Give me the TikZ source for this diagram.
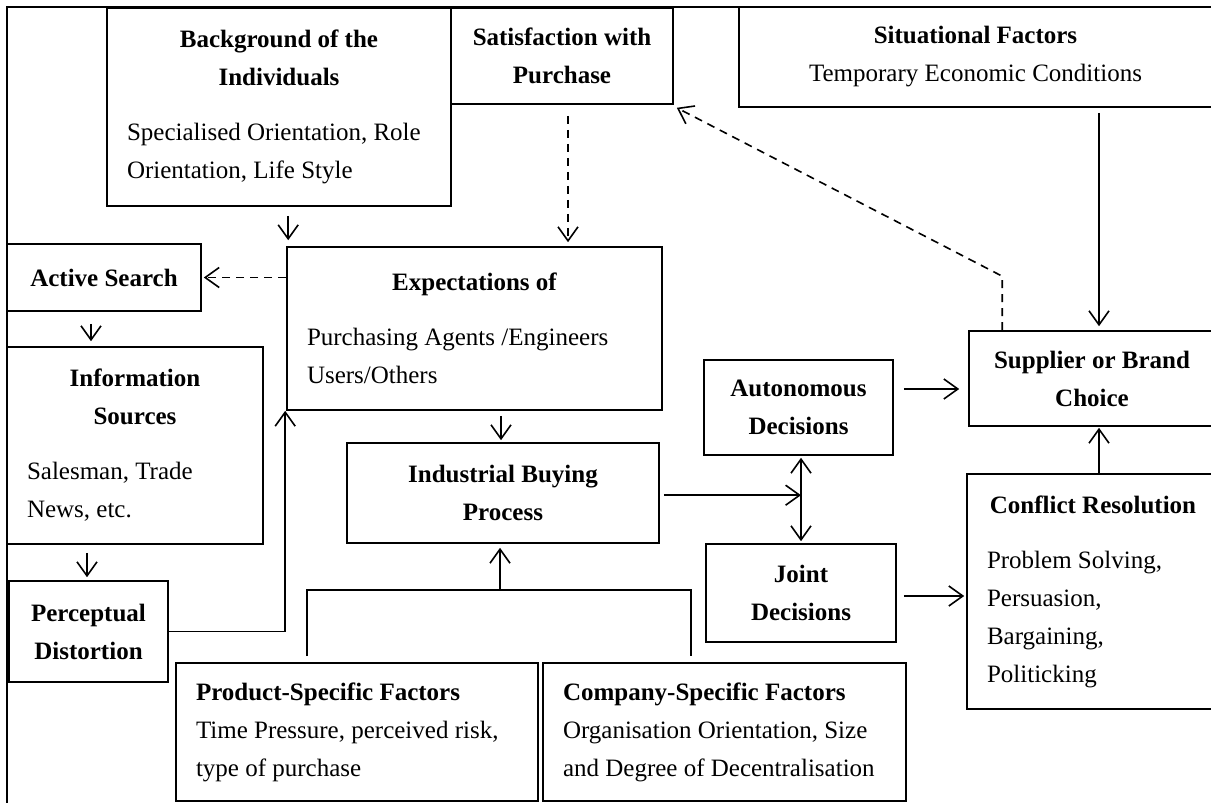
\documentclass[tikz,border=0pt]{standalone}
\usepackage{fontspec}
\setmainfont{Liberation Serif}
\usetikzlibrary{arrows.meta,calc}

\tikzset{
  box/.style={draw, line width=0.8pt, inner xsep=10pt, inner ysep=0pt,
    font=\fontsize{12.5}{19}\selectfont},
  tbox/.style={box, align=center, font=\fontsize{12.5}{19}\selectfont\bfseries},
  pbox/.style={box, align=flush left},
  link/.style={line width=0.8pt, -{Straight Barb[length=7pt,width=10pt]}},
  twoway/.style={line width=0.8pt,
    {Straight Barb[length=7pt,width=10pt]}-{Straight Barb[length=7pt,width=10pt]}},
  dlink/.style={link, dash pattern=on 4pt off 3pt},
}
% centred bold heading inside a left aligned box
\newcommand{\hdr}[1]{{\centering\bfseries #1\par}\vspace{8.5pt}}

\begin{document}
\begin{tikzpicture}[x=0.5pt, y=-0.5pt]
  \useasboundingbox (0,0) rectangle (1211,803);
  \draw[line width=0.8pt] (7,803) -- (7,7) -- (1211,7);

  % boxes
  \node[pbox, minimum width=172pt, minimum height=99pt, text width=152pt] (bg) at (279,107)
    {\hdr{Background of the\\Individuals}Specialised Orientation, Role\\Orientation, Life Style};
  \node[tbox, minimum width=111pt, minimum height=48pt] (sat) at (562,56)
    {Satisfaction with\\Purchase};
  \node[box, align=center, minimum width=236.5pt, minimum height=50pt] (sit) at (975.5,57)
    {\textbf{Situational Factors}\\Temporary Economic Conditions};
  \node[tbox, minimum width=97pt, minimum height=33.5pt] (act) at (104,277.5) {Active Search};
  \node[pbox, minimum width=187.5pt, minimum height=81.5pt, text width=167.5pt] (exp) at (474.5,328.5)
    {\hdr{Expectations of}Purchasing Agents /Engineers\\Users/Others};
  \node[pbox, minimum width=128pt, minimum height=98.5pt, text width=108pt] (info) at (135,445.5)
    {\hdr{Information\\Sources}Salesman, Trade\\News, etc.};
  \node[tbox, minimum width=94.5pt, minimum height=47.5pt] (auto) at (798.5,407.5)
    {Autonomous\\Decisions};
  \node[tbox, minimum width=123pt, minimum height=47.5pt] (sup) at (1092,378.5)
    {Supplier or Brand\\Choice};
  \node[tbox, minimum width=156pt, minimum height=50pt] (ind) at (503,493)
    {Industrial Buying\\Process};
  \node[tbox, minimum width=95pt, minimum height=49pt] (joint) at (801,593)
    {Joint\\Decisions};
  \node[pbox, minimum width=126pt, minimum height=117.5pt, text width=106pt] (conf) at (1093,591.5)
    {\hdr{Conflict Resolution}Problem Solving,\\Persuasion,\\Bargaining,\\Politicking};
  \node[tbox, minimum width=79.5pt, minimum height=50.5pt] (perc) at (88.5,631.5)
    {Perceptual\\Distortion};
  \node[pbox, minimum width=181pt, minimum height=69pt, text width=161pt] (prod) at (357,732)
    {\textbf{Product-Specific Factors}\\Time Pressure, perceived risk,\\type of purchase};
  \node[pbox, minimum width=181.5pt, minimum height=69pt, text width=161.5pt] (comp) at (724.5,732)
    {\textbf{Company-Specific Factors}\\Organisation Orientation, Size\\and Degree of Decentralisation};

  % helper points
  \coordinate (turn) at ($(sup.north west)+(34,-54)$);
  \coordinate (split) at ($(joint.north)+(0,-48)$);
  \coordinate (hub) at ($(ind.south)+(-3,46)$);

  % connectors
  \draw[link] ($(bg.south -| exp.west)+(2,9)$) -- ($(exp.north west)+(2,-6)$);
  \draw[dlink] ($(sat.south)+(6,11)$) -- ($(sat.south |- exp.north)+(6,-4)$);
  \draw[dlink] (sup.north west -| turn) -- (turn) -- ($(sat.south east)+(3,3)$);
  \draw[link] ($(sit.south -| sup.north)+(7,5)$) -- ($(sup.north)+(7,-4)$);
  \draw[dlink] (act.east -| exp.west) -- ($(act.east)+(2,0)$);
  \draw[link] ($(act.south)+(-13,12)$) -- ($(act.south |- info.north)+(-13,-5)$);
  \draw[link] ($(info.south -| perc.north)+(-1.5,8)$) -- ($(perc.north)+(-1.5,-3)$);
  \draw[link] (perc.east) -| ($(exp.south west)+(-1,0)$);
  \draw[link] ($(exp.south -| ind.north)+(-2,5)$) -- ($(ind.north)+(-2,-2)$);
  \draw[link] ($(ind.east |- split)+(4,0)$) -- (split);
  \draw[twoway] ($(split |- auto.south)+(0,2)$) -- ($(split |- joint.north)+(0,-2)$);
  \draw[link] ($(auto.east)+(10,-18.5)$) -- ($(auto.east -| sup.west)+(-9,-18.5)$);
  \draw[link] ($(joint.east)+(7,3)$) -- ($(joint.east -| conf.west)+(-2,3)$);
  \draw[link] ($(conf.north -| sup.south)+(7,0)$) -- ($(sup.south)+(7,1)$);
  \draw[line width=0.8pt] ($(prod.north west)+(132,-6)$) |- (hub) -| ($(comp.north west)+(149,-6)$);
  \draw[link] (hub) -- ($(ind.south)+(-3,4)$);
\end{tikzpicture}
\end{document}
